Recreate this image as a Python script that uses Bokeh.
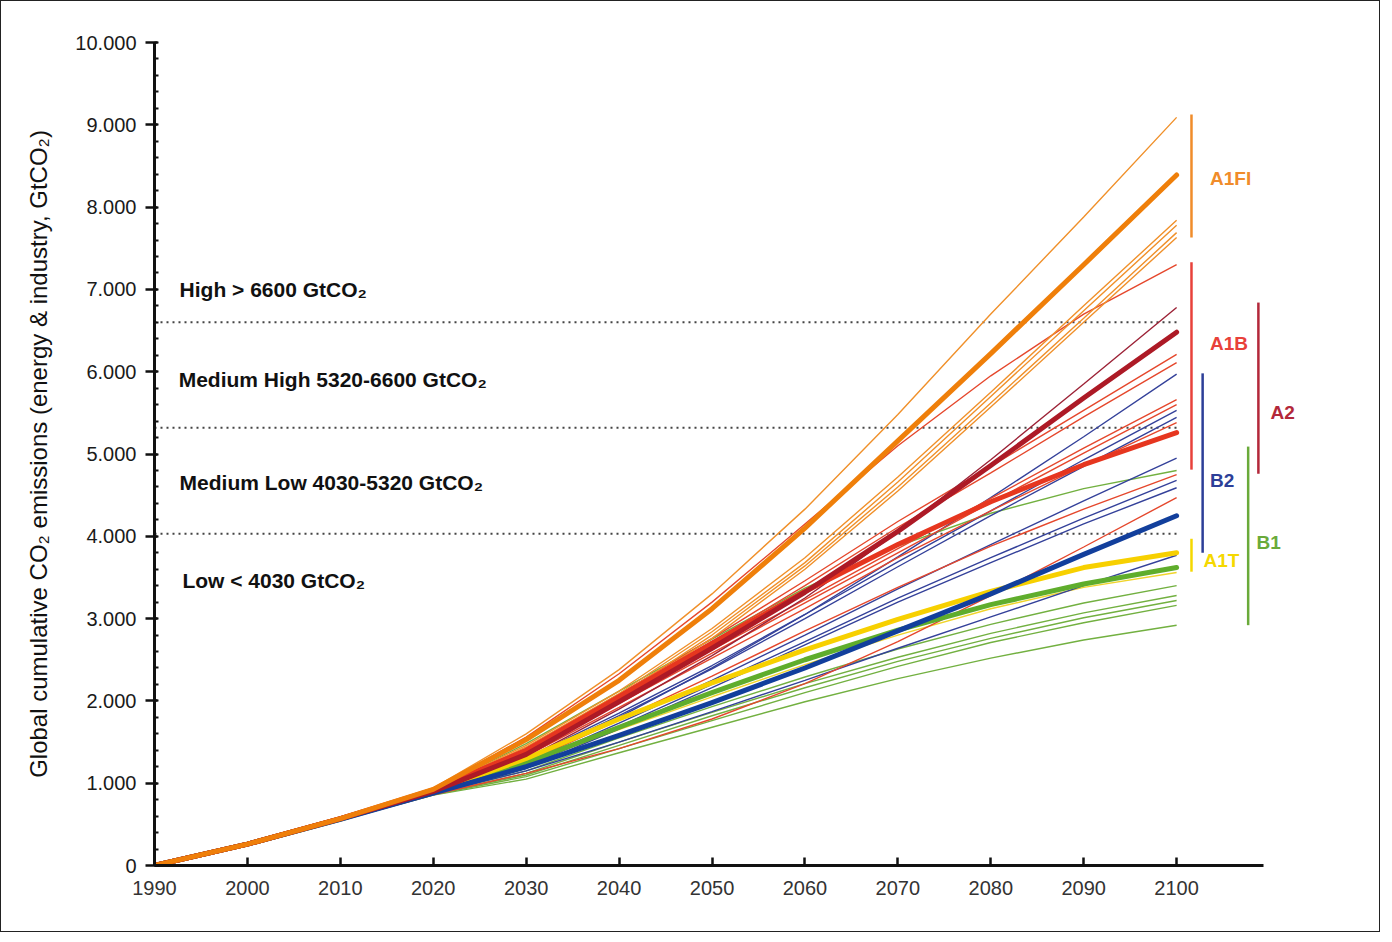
from bokeh.plotting import figure
from bokeh.models import FixedTicker, Range1d
from bokeh.core.properties import value
from bokeh.embed import file_html
from bokeh.resources import INLINE

# ---------------- data ----------------
years = [1990, 2000, 2010, 2020, 2030, 2040, 2050, 2060, 2070, 2080, 2090, 2100]

# marker scenarios (thick lines), cumulative GtCO2
a1fi_marker = [0, 260, 570, 925, 1530, 2250, 3120, 4100, 5160, 6220, 7300, 8390]
a1b_marker = [0, 260, 570, 920, 1400, 2050, 2700, 3330, 3900, 4420, 4870, 5260]
a2_marker = [0, 260, 570, 900, 1350, 1990, 2640, 3320, 4060, 4860, 5680, 6480]
b2_marker = [0, 260, 560, 880, 1200, 1580, 1980, 2400, 2850, 3300, 3780, 4250]
a1t_marker = [0, 260, 565, 900, 1300, 1780, 2220, 2620, 2990, 3330, 3620, 3800]
b1_marker = [0, 260, 565, 890, 1250, 1680, 2100, 2500, 2860, 3170, 3420, 3620]

# other scenarios (thin lines)
a1fi_others = [
    [0, 260, 575, 940, 1600, 2380, 3300, 4330, 5480, 6700, 7880, 9090],
    [0, 260, 570, 920, 1460, 2120, 2880, 3740, 4720, 5750, 6800, 7840],
    [0, 260, 570, 915, 1440, 2090, 2840, 3680, 4660, 5700, 6740, 7780],
    [0, 260, 570, 910, 1420, 2060, 2800, 3640, 4600, 5620, 6650, 7690],
    [0, 260, 565, 905, 1400, 2040, 2760, 3600, 4550, 5570, 6600, 7630],
]
a1b_others = [
    [0, 260, 575, 930, 1560, 2330, 3200, 4150, 5100, 5950, 6700, 7300],
    [0, 260, 570, 915, 1420, 2080, 2760, 3460, 4180, 4850, 5530, 6210],
    [0, 260, 570, 910, 1380, 2040, 2720, 3400, 4110, 4770, 5450, 6110],
    [0, 260, 565, 905, 1380, 2000, 2620, 3230, 3850, 4460, 5070, 5660],
    [0, 260, 565, 900, 1350, 1970, 2580, 3190, 3800, 4410, 5010, 5600],
    [0, 260, 565, 900, 1330, 1920, 2520, 3120, 3740, 4310, 4860, 5380],
    [0, 260, 560, 880, 1250, 1770, 2300, 2850, 3380, 3880, 4330, 4750],
    [0, 255, 550, 860, 1120, 1420, 1780, 2210, 2720, 3280, 3870, 4470],
]
a2_others = [
    [0, 260, 565, 895, 1300, 1900, 2550, 3250, 4050, 4930, 5850, 6780],
]
b2_others = [
    [0, 260, 565, 890, 1250, 1800, 2400, 3050, 3750, 4470, 5210, 5970],
    [0, 260, 565, 890, 1300, 1850, 2430, 3050, 3690, 4310, 4930, 5530],
    [0, 260, 565, 885, 1280, 1820, 2390, 3000, 3630, 4250, 4850, 5445],
    [0, 260, 560, 880, 1230, 1730, 2250, 2800, 3360, 3900, 4430, 4950],
    [0, 260, 560, 875, 1200, 1690, 2200, 2720, 3250, 3740, 4220, 4680],
    [0, 260, 560, 875, 1180, 1660, 2160, 2680, 3200, 3680, 4150, 4590],
    [0, 255, 555, 870, 1150, 1500, 1870, 2250, 2640, 3020, 3400, 3770],
]
a1t_others = [
    [0, 260, 560, 890, 1230, 1650, 2050, 2440, 2800, 3120, 3380, 3560],
]
b1_others = [
    [0, 260, 570, 920, 1480, 2120, 2750, 3370, 3880, 4280, 4580, 4800],
    [0, 255, 560, 875, 1150, 1550, 1930, 2290, 2630, 2930, 3190, 3400],
    [0, 255, 555, 870, 1120, 1500, 1860, 2210, 2530, 2820, 3070, 3280],
    [0, 255, 555, 865, 1100, 1460, 1820, 2160, 2480, 2760, 3010, 3220],
    [0, 255, 555, 860, 1080, 1420, 1760, 2100, 2420, 2710, 2950, 3160],
    [0, 255, 550, 855, 1050, 1370, 1680, 1990, 2270, 2520, 2740, 2920],
]

# category thresholds (GtCO2)
thresholds = [6600, 5320, 4030]
category_labels = ["High > 6600 GtCO₂", "Medium High 5320-6600 GtCO₂",
                   "Medium Low 4030-5320 GtCO₂", "Low < 4030 GtCO₂"]

# scenario-family ranges in 2100 (GtCO2)
family_names = ["A1FI", "A1B", "A2", "B2", "A1T", "B1"]
family_low = [7630, 4810, 4760, 3800, 3570, 2920]
family_high = [9125, 7330, 6840, 5980, 3970, 5090]

# axis ticks
y_tick_values = [0, 1000, 2000, 3000, 4000, 5000, 6000, 7000, 8000, 9000, 10000]
y_tick_labels = ["0", "1.000", "2.000", "3.000", "4.000", "5.000",
                 "6.000", "7.000", "8.000", "9.000", "10.000"]
y_minor_ticks = list(range(0, 10001, 200))
x_tick_years = [1990, 2000, 2010, 2020, 2030, 2040, 2050, 2060, 2070, 2080, 2090, 2100]

# ---------------- styling ----------------
colors = {
    "A1FI": "#ef7f0a",
    "A1B": "#e6361f",
    "A2": "#ad1a26",
    "B2": "#123f9c",
    "A1T": "#f7d000",
    "B1": "#5fad2c",
}
thin_colors = {
    "A1FI": "#f0902a",
    "A1B": "#e5472c",
    "A2": "#9c2236",
    "B2": "#34419a",
    "A1T": "#f0d42a",
    "B1": "#72b040",
}
bar_colors = {
    "A1FI": "#f08c2a",
    "A1B": "#e8413a",
    "A2": "#b3283a",
    "B2": "#2d3f98",
    "A1T": "#f5d800",
    "B1": "#6aaa3a",
}
FONT = "Liberation Sans"

p = figure(width=1380, height=932,
           x_range=Range1d(1990, 2115.7), y_range=Range1d(0, 10000),
           output_backend="svg", toolbar_location=None,
           min_border_left=153, min_border_right=59,
           min_border_top=41, min_border_bottom=68)
p.styles = {"border": "1px solid #222222"}
p.xgrid.visible = False
p.ygrid.visible = False
p.outline_line_color = None
p.background_fill_color = "white"
p.border_fill_color = "white"

# y axis
ya = p.yaxis[0]
ya.ticker = FixedTicker(ticks=y_tick_values, minor_ticks=y_minor_ticks)
ya.major_label_overrides = dict(zip(y_tick_values, y_tick_labels))
ya.axis_line_width = 3
ya.axis_line_color = "#111111"
ya.major_tick_line_width = 2.5
ya.major_tick_line_color = "#111111"
ya.major_tick_out = 9
ya.major_tick_in = 3
ya.minor_tick_line_width = 2
ya.minor_tick_line_color = "#111111"
ya.minor_tick_in = 4
ya.minor_tick_out = 0
ya.major_label_text_font = FONT
ya.major_label_text_font_size = "20px"
ya.major_label_text_color = "#1a1a1a"
ya.major_label_standoff = 9
ya.axis_label = "Global cumulative CO₂ emissions (energy & industry, GtCO₂)"
ya.axis_label_text_font = FONT
ya.axis_label_text_font_size = "24px"
ya.axis_label_text_font_style = "normal"
ya.axis_label_text_color = "#111111"
ya.axis_label_standoff = 20

# x axis
xa = p.xaxis[0]
xa.ticker = FixedTicker(ticks=x_tick_years, minor_ticks=[])
xa.bounds = (1990, 2109.4)
xa.axis_line_width = 3
xa.axis_line_color = "#111111"
xa.major_tick_line_width = 2.5
xa.major_tick_line_color = "#111111"
xa.major_tick_in = 8
xa.major_tick_out = 0
xa.minor_tick_in = 0
xa.minor_tick_out = 0
xa.major_label_text_font = FONT
xa.major_label_text_font_size = "20px"
xa.major_label_text_color = "#333333"
xa.major_label_standoff = 15

# threshold dotted lines
p.segment(x0=[years[0]] * len(thresholds), y0=thresholds,
          x1=[years[-1]] * len(thresholds), y1=thresholds,
          line_color="#444444", line_width=2, line_dash="2 4")

# thin scenario lines
thin_groups = [("B1", b1_others), ("A1T", a1t_others), ("B2", b2_others),
               ("A1B", a1b_others), ("A2", a2_others), ("A1FI", a1fi_others)]
for fam, group in thin_groups:
    for series in group:
        p.line(years, series, line_color=thin_colors[fam], line_width=1.4)

# thick marker lines
markers = [("B1", b1_marker), ("A1T", a1t_marker), ("B2", b2_marker),
           ("A1B", a1b_marker), ("A2", a2_marker), ("A1FI", a1fi_marker)]
for fam, series in markers:
    p.line(years, series, line_color=colors[fam], line_width=5, line_cap="round", line_join="round")

# category labels
label_x = [1992.7, 1992.6, 1992.7, 1993.0]
label_y = [7000, 5910, 4650, 3460]
p.text(x=label_x, y=label_y, text=category_labels,
       text_font=value(FONT), text_font_size="21px", text_font_style="bold",
       text_color="#111111", text_align="left", text_baseline="middle")

# family range bars and labels
bar_x = {"A1FI": 2101.6, "A1B": 2101.6, "A2": 2108.8, "B2": 2102.8, "A1T": 2101.6, "B1": 2107.7}
txt_x = {"A1FI": 2103.6, "A1B": 2103.6, "A2": 2110.1, "B2": 2103.6, "A1T": 2102.9, "B1": 2108.6}
txt_y = {"A1FI": 8347, "A1B": 6343, "A2": 5504, "B2": 4678, "A1T": 3706, "B1": 3925}
for name, lo, hi in zip(family_names, family_low, family_high):
    p.segment(x0=[bar_x[name]], y0=[lo], x1=[bar_x[name]], y1=[hi],
              line_color=bar_colors[name], line_width=2.5)
    p.text(x=[txt_x[name]], y=[txt_y[name]], text=[name],
           text_font=value(FONT), text_font_size="19px", text_font_style="bold",
           text_color=bar_colors[name], text_align="left", text_baseline="middle")

open("out.html", "w").write(file_html(p, INLINE))
